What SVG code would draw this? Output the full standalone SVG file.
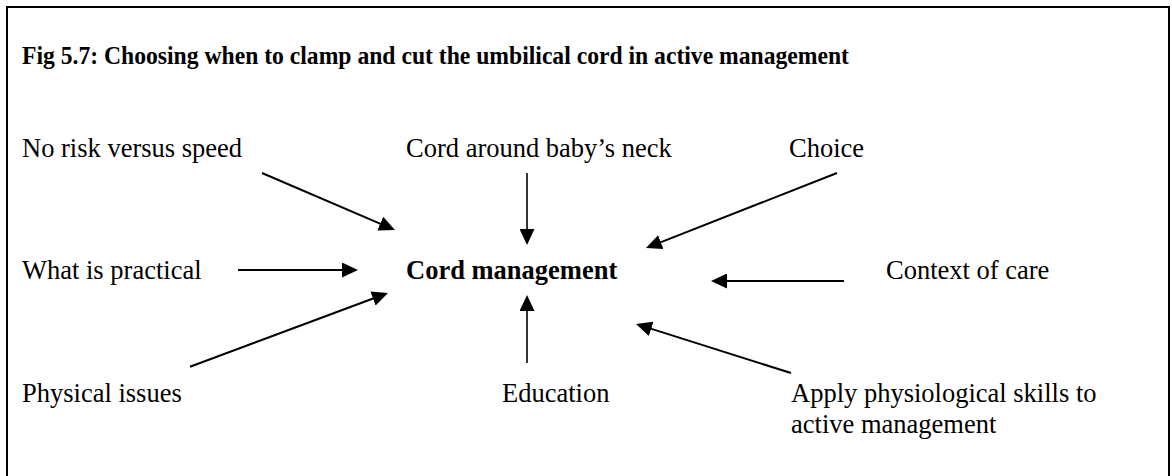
<svg xmlns="http://www.w3.org/2000/svg" width="1172" height="476" viewBox="0 0 1172 476">
<style>
.t{font-family:"Liberation Serif","Times New Roman",serif;font-size:26.5px;fill:#000}
.b{font-weight:bold}
.h{font-size:25px}
.c{stroke:#000;stroke-width:2;fill:none;marker-end:url(#ah)}
.v{stroke-width:1.6}
</style>
<defs>
<marker id="ah" markerUnits="userSpaceOnUse" markerWidth="16" markerHeight="15" refX="8" refY="7.5" orient="auto">
<path d="M0,0 L16,7.5 L0,15 z" fill="#000"/>
</marker>
</defs>
<rect x="0" y="0" width="1172" height="476" fill="#fff"/>
<rect x="7" y="7" width="1162" height="490" fill="none" stroke="#000" stroke-width="2"/>
<g id="title"><text class="t b h" x="22" y="64" textLength="827" lengthAdjust="spacingAndGlyphs">Fig 5.7: Choosing when to clamp and cut the umbilical cord in active management</text></g>
<g id="n-risk"><text class="t" x="22" y="157">No risk versus speed</text></g>
<g id="n-neck"><text class="t" x="406" y="157">Cord around baby’s neck</text></g>
<g id="n-choice"><text class="t" x="789" y="157">Choice</text></g>
<g id="n-practical"><text class="t" x="22" y="279">What is practical</text></g>
<g id="n-cord"><text class="t b" x="406" y="279">Cord management</text></g>
<g id="n-context"><text class="t" x="886" y="279">Context of care</text></g>
<g id="n-physical"><text class="t" x="22" y="402">Physical issues</text></g>
<g id="n-education"><text class="t" x="502" y="402">Education</text></g>
<g id="n-apply"><text class="t" x="791" y="402">Apply physiological skills to</text><text class="t" x="791" y="433">active management</text></g>
<g id="connectors">
<line class="c" x1="262" y1="173" x2="387.6" y2="226.8"/>
<line class="c v" x1="527" y1="173" x2="527" y2="237"/>
<line class="c" x1="837" y1="173" x2="653.4" y2="245.1"/>
<line class="c" x1="238" y1="270" x2="350" y2="270"/>
<line class="c" x1="844" y1="281" x2="719" y2="281"/>
<line class="c" x1="190" y1="366.7" x2="380.5" y2="295.8"/>
<line class="c v" x1="527" y1="363" x2="527" y2="303"/>
<line class="c" x1="791" y1="373" x2="643.6" y2="326.4"/>
</g>
</svg>
